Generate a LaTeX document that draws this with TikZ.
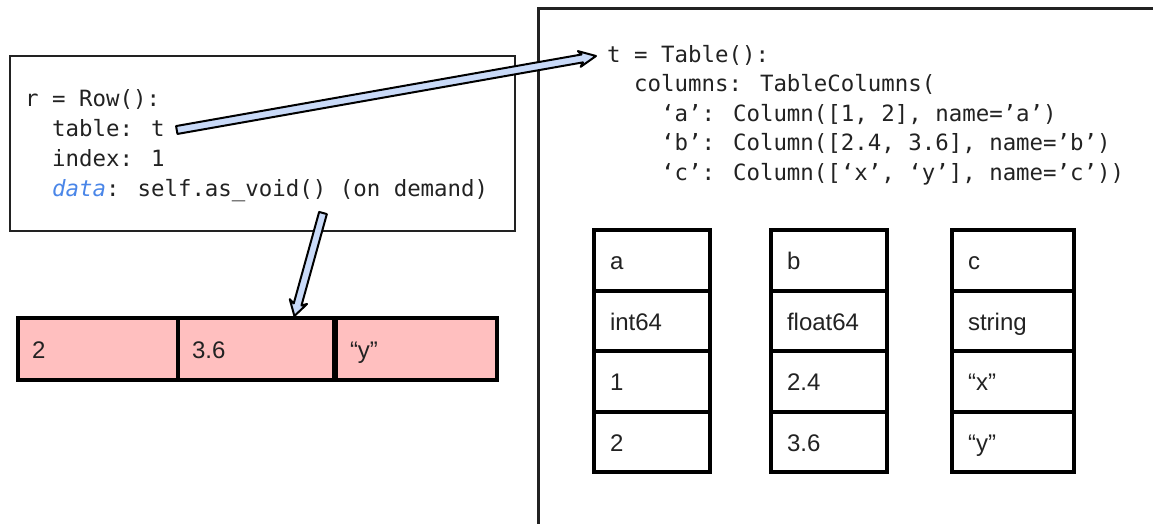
\documentclass[tikz,border=0pt]{standalone}
\usepackage{fontspec}
\setmainfont{Liberation Sans}
\newfontfamily\codefont{DejaVu Sans Mono}
\usetikzlibrary{calc}
\definecolor{arrowblue}{HTML}{C9DAF8}
\definecolor{pinkfill}{HTML}{FFBFBF}
\definecolor{datablue}{HTML}{4A86E8}
\definecolor{inkgray}{HTML}{222222}
% #1 prefix, #2 tail, #3 tip, #4 half shaft, #5 half head, #6 head length, #7 wing length
\newcommand\fatarrow[7]{%
  \coordinate (#1h) at ($(#3)!#6!(#2)$);
  \coordinate (#1w) at ($(#3)!#7!(#2)$);
  \draw[fatarrowstyle]
    ($(#2)!#4!90:(#3)$) -- ($(#1h)!#4!-90:(#2)$) -- ($(#1w)!#5!-90:(#2)$) -- (#3)
    -- ($(#1w)!#5!90:(#2)$) -- ($(#1h)!#4!90:(#2)$) -- ($(#2)!#4!-90:(#3)$) -- cycle;
}
\begin{document}
\begin{tikzpicture}[x=1pt,y=-1pt,
  codetext/.style={anchor=base west, inner sep=0pt, text=inkgray,
    font=\codefont\fontsize{22.4}{28}\selectfont},
  framebox/.style={draw=inkgray, anchor=north west, inner sep=0pt},
  colcell/.style={draw=black, line width=4pt, anchor=north west, inner xsep=16pt,
    inner ysep=0pt, text width=84pt, align=left, minimum height=60.5pt,
    text height=20pt, text depth=1pt,
    text=inkgray, font=\fontsize{24}{28}\selectfont},
  pinkcell/.style={draw=black, line width=4pt, fill=pinkfill, anchor=north west,
    inner xsep=14pt, inner ysep=0pt, align=left, minimum height=62pt,
    text height=20pt, text depth=1pt,
    text=inkgray, font=\fontsize{24}{28}\selectfont},
  fatarrowstyle/.style={draw=black, line width=2pt, fill=arrowblue, line join=round},
]
\useasboundingbox (0,0) rectangle (1153,523);
\clip (0,0) rectangle (1153,523);

% frames
\node[framebox, line width=2pt, minimum width=505pt, minimum height=175pt] (rowbox) at (9,55) {};
\node[framebox, line width=2.5pt, minimum width=650pt, minimum height=560pt] (tablebox) at (537,7) {};

% Row code
\node[codetext] (r1) at (25,106) {r = Row():};
\node[codetext] (r2) at (25,136) {\ \ table: t};
\node[codetext] (r3) at (25,166) {\ \ index: 1};
\node[codetext] (r4) at (25,196) {\ \ {\color{datablue}\itshape data}: self.as\_void() (on demand)};

% Table code
\node[codetext] (t1) at (607,62) {t = Table():};
\node[codetext] (t2) at (607,91.5) {\ \ columns: TableColumns(};
\node[codetext] (t3) at (607,121) {\ \ \ \ ‘a’: Column([1, 2], name=’a’)};
\node[codetext] (t4) at (607,150.5) {\ \ \ \ ‘b’: Column([2.4, 3.6], name=’b’)};
\node[codetext] (t5) at (607,180) {\ \ \ \ ‘c’: Column([‘x’, ‘y’], name=’c’))};

% columns
\node[colcell] (a1) at (592,228) {a};
\node[colcell] (a2) at (592,288.5) {int64};
\node[colcell] (a3) at (592,349) {1};
\node[colcell] (a4) at (592,409.5) {2};

\node[colcell] (b1) at (769,228) {b};
\node[colcell] (b2) at (769,288.5) {float64};
\node[colcell] (b3) at (769,349) {2.4};
\node[colcell] (b4) at (769,409.5) {3.6};

\node[colcell, text width=90pt] (c1) at (950,228) {c};
\node[colcell, text width=90pt] (c2) at (950,288.5) {string};
\node[colcell, text width=90pt] (c3) at (950,349) {“x”};
\node[colcell, text width=90pt] (c4) at (950,409.5) {“y”};

% pink row
\node[pinkcell, text width=132pt] (p1) at (16,316) {2};
\node[pinkcell, text width=128pt] (p2) at (176,316) {3.6};
\node[pinkcell, text width=133pt] (p3) at (334,316) {“y”};

% arrows
\coordinate (tailA) at ($(r2.base east)+(12,-6)$);
\coordinate (tipA) at ($(t1.base west)+(-11,-6)$);
\fatarrow{aa}{tailA}{tipA}{4pt}{8pt}{14pt}{17pt}
\coordinate (tailB) at (323,213);
\coordinate (tipB) at ($(p2.north west)!0.74!(p2.north east)$);
\fatarrow{bb}{tailB}{tipB}{4pt}{9pt}{12pt}{15pt}
\end{tikzpicture}
\end{document}
